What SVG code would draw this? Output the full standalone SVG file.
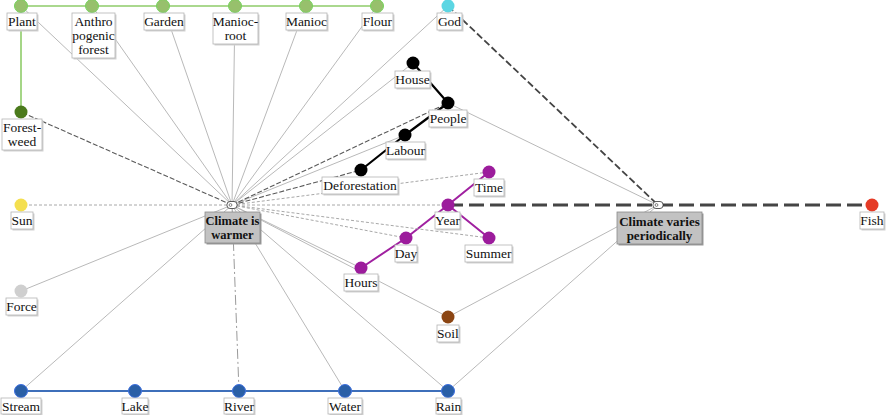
<svg xmlns="http://www.w3.org/2000/svg" width="886" height="415" viewBox="0 0 886 415">
<style>
text{font-family:"Liberation Serif","Times New Roman",serif;font-size:13.5px;fill:#111;text-anchor:middle}
.hb text{font-weight:bold;font-size:13px}
#climate-is-warmer text{font-size:12.5px}
.lb{fill:#fff;stroke:#b5b5b5;stroke-width:0.8}
.sh{fill:#d2d2d2}
.hl{fill:#c2c2c2;stroke:#8a8a8a;stroke-width:0.8}
.hsh{fill:#9a9a9a}
.ls{stroke:#b9b9b9;stroke-width:1;fill:none}
.ld{stroke:#a8a8a8;stroke-width:1;stroke-dasharray:3 2;fill:none}
.dd{stroke:#5a5a5a;stroke-width:1.1;stroke-dasharray:5 2;fill:none}
.rv{stroke:#9a9a9a;stroke-width:1;stroke-dasharray:10 3 2 3;fill:none}
.gd{stroke:#444;stroke-width:1.8;stroke-dasharray:7 3;fill:none}
.yr{stroke:#454545;stroke-width:3;stroke-dasharray:15 6;fill:none}
.gr{stroke:#8fcc6a;stroke-width:1.6;fill:none}
.bl{stroke:#3e6fba;stroke-width:1.8;fill:none}
.pu{stroke:#a020a0;stroke-width:2;fill:none}
.bk{stroke:#000;stroke-width:2.2;fill:none}
.cg{fill:#97c06c;stroke:#74d45a;stroke-width:1}
.cb{fill:#2a5fa6;stroke:#3d6fe0;stroke-width:1}
.cp{fill:#9c1c9c}
.ck{fill:#000}
.hubi{fill:#fff;stroke:#333;stroke-width:0.8}
</style>
<g id="connectors">
  <path class="gr" d="M21,6 H377 M21,6 V112"/>
  <path class="bl" d="M21,391 H448"/>
  <path class="pu" d="M489,172 L448,205 M448,205 L406,238 M406,238 L361,268 M448,205 L489,238"/>
  <path class="bk" d="M413,63 L448,103 M448,103 L405,135 M405,135 L361,170"/>
  <path class="ls" d="M232,205 L21,6 M232,205 L92,6 M232,205 L163,6 M232,205 L235,6 M232,205 L306,6 M232,205 L377,6 M232,205 L448,6 M232,205 L413,63 M232,205 L405,135 M232,205 L21,291 M232,205 L21,391 M232,205 L345,391 M232,205 L448,391 M232,205 L361,268 M232,205 L448,317"/>
  <path class="ld" d="M232,205 L21,205 M232,205 L448,205 M232,205 L489,172 M232,205 L489,238 M232,205 L406,238"/>
  <path class="dd" d="M232,205 L21,112 M232,205 L448,103 M232,205 L361,170"/>
  <path class="rv" d="M232,205 L239,391"/>
  <path class="gd" d="M448,6 L658,205"/>
  <path class="yr" d="M448,205 H872"/>
  <path class="ls" d="M448,103 L658,205 M448,317 L658,205 M448,391 L658,205"/>
</g>
<g id="plant"><circle class="cg" cx="21" cy="6" r="6.5"/><rect class="sh" x="8.5" y="14.5" width="30" height="17"/><rect class="lb" x="7" y="13" width="30" height="17"/><text x="22" y="26">Plant</text></g>
<g id="anthropogenic-forest"><circle class="cg" cx="92" cy="6" r="6.5"/><rect class="sh" x="73.5" y="14.5" width="43" height="45"/><rect class="lb" x="72" y="13" width="43" height="45"/><text x="93.5" y="26">Anthro</text><text x="93.5" y="40">pogenic</text><text x="93.5" y="54">forest</text></g>
<g id="garden"><circle class="cg" cx="163" cy="6" r="6.5"/><rect class="sh" x="145.5" y="14.5" width="40" height="17"/><rect class="lb" x="144" y="13" width="40" height="17"/><text x="164" y="26">Garden</text></g>
<g id="manioc-root"><circle class="cg" cx="235" cy="6" r="6.5"/><rect class="sh" x="214.5" y="14.5" width="45" height="31"/><rect class="lb" x="213" y="13" width="45" height="31"/><text x="235.5" y="26">Manioc-</text><text x="235.5" y="40">root</text></g>
<g id="manioc"><circle class="cg" cx="306" cy="6" r="6.5"/><rect class="sh" x="287.5" y="14.5" width="41" height="17"/><rect class="lb" x="286" y="13" width="41" height="17"/><text x="306.5" y="26">Manioc</text></g>
<g id="flour"><circle class="cg" cx="377" cy="6" r="6.5"/><rect class="sh" x="363.5" y="14.5" width="31" height="17"/><rect class="lb" x="362" y="13" width="31" height="17"/><text x="377.5" y="26">Flour</text></g>
<g id="god"><circle cx="448" cy="6" r="6.5" fill="#5cd6e3"/><rect class="sh" x="438.5" y="14.5" width="25" height="17"/><rect class="lb" x="437" y="13" width="25" height="17"/><text x="449.5" y="26">God</text></g>
<g id="forest-weed"><circle cx="21" cy="112" r="6.5" fill="#4b7a1c"/><rect class="sh" x="3.5" y="120.5" width="40" height="31"/><rect class="lb" x="2" y="119" width="40" height="31"/><text x="22" y="132">Forest-</text><text x="22" y="146">weed</text></g>
<g id="house"><circle class="ck" cx="413" cy="63" r="6.5"/><rect class="sh" x="396.5" y="72.5" width="35" height="17"/><rect class="lb" x="395" y="71" width="35" height="17"/><text x="412.5" y="84">House</text></g>
<g id="people"><circle class="ck" cx="448" cy="103" r="6.5"/><rect class="sh" x="430.5" y="111.5" width="38" height="17"/><rect class="lb" x="429" y="110" width="38" height="17"/><text x="448" y="123">People</text></g>
<g id="labour"><circle class="ck" cx="405" cy="135" r="6.5"/><rect class="sh" x="387.5" y="143.5" width="39" height="17"/><rect class="lb" x="386" y="142" width="39" height="17"/><text x="405.5" y="155">Labour</text></g>
<g id="deforestation"><circle class="ck" cx="361" cy="170" r="6.5"/><rect class="sh" x="323.5" y="178.5" width="76" height="17"/><rect class="lb" x="322" y="177" width="76" height="17"/><text x="360" y="190">Deforestation</text></g>
<g id="time"><circle class="cp" cx="489" cy="172" r="6.5"/><rect class="sh" x="475.5" y="180.5" width="30" height="17"/><rect class="lb" x="474" y="179" width="30" height="17"/><text x="489" y="192">Time</text></g>
<g id="year"><circle class="cp" cx="448" cy="205" r="6.5"/><rect class="sh" x="436.5" y="213.5" width="25" height="17"/><rect class="lb" x="435" y="212" width="25" height="17"/><text x="447.5" y="225">Year</text></g>
<g id="day"><circle class="cp" cx="406" cy="238" r="6.5"/><rect class="sh" x="396.5" y="246.5" width="22" height="17"/><rect class="lb" x="395" y="245" width="22" height="17"/><text x="406" y="258">Day</text></g>
<g id="summer"><circle class="cp" cx="489" cy="238" r="6.5"/><rect class="sh" x="466.5" y="246.5" width="47" height="17"/><rect class="lb" x="465" y="245" width="47" height="17"/><text x="488.5" y="258">Summer</text></g>
<g id="hours"><circle class="cp" cx="361" cy="268" r="6.5"/><rect class="sh" x="345.5" y="275.5" width="34" height="17"/><rect class="lb" x="344" y="274" width="34" height="17"/><text x="361" y="287">Hours</text></g>
<g id="soil"><circle cx="448" cy="317" r="6.5" fill="#8b4513"/><rect class="sh" x="438.5" y="326.5" width="22" height="17"/><rect class="lb" x="437" y="325" width="22" height="17"/><text x="448" y="338">Soil</text></g>
<g id="sun"><circle cx="21" cy="205" r="6.5" fill="#f4df4f"/><rect class="sh" x="12.5" y="213.5" width="22" height="17"/><rect class="lb" x="11" y="212" width="22" height="17"/><text x="22" y="225">Sun</text></g>
<g id="force"><circle cx="21" cy="291" r="6.5" fill="#cfcfcf"/><rect class="sh" x="7.5" y="299.5" width="31" height="17"/><rect class="lb" x="6" y="298" width="31" height="17"/><text x="21.5" y="311">Force</text></g>
<g id="stream"><circle class="cb" cx="21" cy="391" r="6.5"/><rect class="sh" x="2.5" y="399.5" width="40" height="16"/><rect class="lb" x="1" y="398" width="40" height="16"/><text x="21" y="411">Stream</text></g>
<g id="lake"><circle class="cb" cx="135" cy="391" r="6.5"/><rect class="sh" x="123.5" y="399.5" width="26" height="16"/><rect class="lb" x="122" y="398" width="26" height="16"/><text x="135" y="411">Lake</text></g>
<g id="river"><circle class="cb" cx="239" cy="391" r="6.5"/><rect class="sh" x="225.5" y="399.5" width="30" height="16"/><rect class="lb" x="224" y="398" width="30" height="16"/><text x="239" y="411">River</text></g>
<g id="water"><circle class="cb" cx="345" cy="391" r="6.5"/><rect class="sh" x="329.5" y="399.5" width="34" height="16"/><rect class="lb" x="328" y="398" width="34" height="16"/><text x="345" y="411">Water</text></g>
<g id="rain"><circle class="cb" cx="448" cy="391" r="6.5"/><rect class="sh" x="437.5" y="399.5" width="25" height="16"/><rect class="lb" x="436" y="398" width="25" height="16"/><text x="448.5" y="411">Rain</text></g>
<g id="fish"><circle cx="872" cy="205" r="6.5" fill="#e53b26"/><rect class="sh" x="861.5" y="213.5" width="24" height="17"/><rect class="lb" x="860" y="212" width="24" height="17"/><text x="872" y="225">Fish</text></g>
<g id="climate-is-warmer" class="hb"><rect class="hubi" x="227" y="201.5" width="10" height="7" rx="3"/><circle cx="230.5" cy="205" r="1.4" fill="none" stroke="#333" stroke-width="0.6"/><rect class="hsh" x="206.5" y="213.5" width="55" height="31"/><rect class="hl" x="205" y="212" width="55" height="31"/><text x="232.5" y="225">Climate is</text><text x="232.5" y="239">warmer</text></g>
<g id="climate-varies-periodically" class="hb"><rect class="hubi" x="653" y="201.5" width="10" height="7" rx="3"/><circle cx="656.5" cy="205" r="1.4" fill="none" stroke="#333" stroke-width="0.6"/><rect class="hsh" x="618.5" y="213.5" width="85" height="32"/><rect class="hl" x="617" y="212" width="85" height="32"/><text x="659.5" y="226">Climate varies</text><text x="659.5" y="240">periodically</text></g>
</svg>
